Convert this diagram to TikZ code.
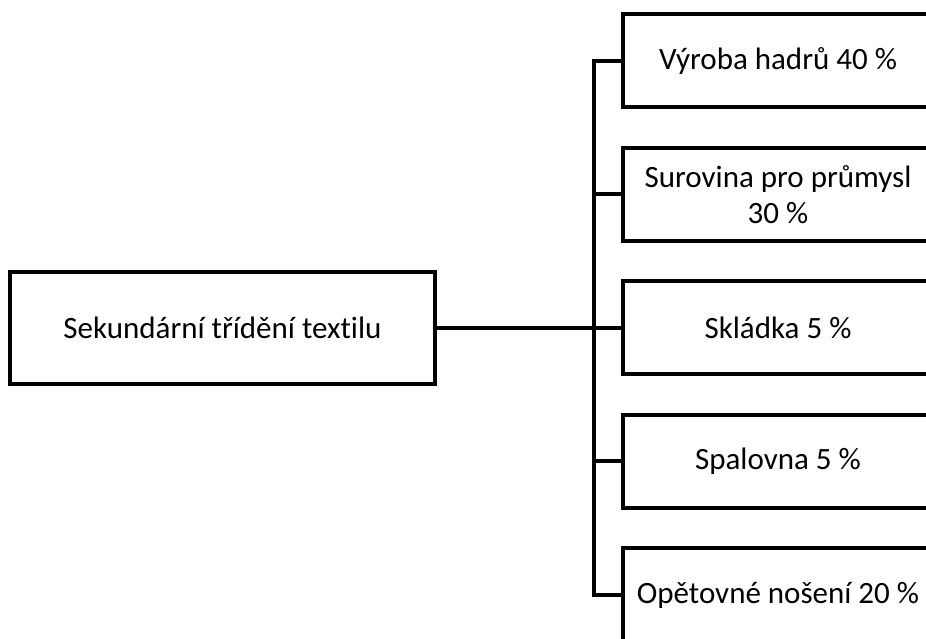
\documentclass[tikz,border=0pt]{standalone}
\usepackage{fontspec}
\setmainfont{Carlito}[Ligatures=NoCommon]
\begin{document}
\begin{tikzpicture}[x=1pt,y=1pt,
  box/.style={draw=black, line width=4pt, fill=white, inner sep=0pt,
    align=center, font=\fontsize{31}{36}\selectfont},
  srcbox/.style={box, minimum width=425pt, minimum height=112pt},
  leafbox/.style={box, minimum width=310pt, minimum height=93pt},
  link/.style={draw=black, line width=4pt}]
\useasboundingbox (0,0) rectangle (926,639);
\clip (0,0) rectangle (926,639);
% source box
\node[srcbox] (src) at (222.5,311) {Sekundární třídění textilu};
% destination boxes, partly cut off at the right edge
\node[leafbox] (d1) at (778,578)   {Výroba hadrů 40 \%};
\node[leafbox] (d2) at (778,444.5) {Surovina pro průmysl\\30 \%};
\node[leafbox] (d3) at (778,311)   {Skládka 5 \%};
\node[leafbox] (d4) at (778,177.5) {Spalovna 5 \%};
\node[leafbox] (d5) at (778,44)    {Opětovné nošení 20 \%};
% trunk of the bracket
\coordinate (tt) at (594,578);
\coordinate (tb) at (594,44);
\draw[link] (src.east) -- (src.east -| tt);
\draw[link, line cap=rect] (tt) -- (tb);
\foreach \d in {d1,d2,d3,d4,d5}
  \draw[link] (\d.west) -- (\d.west -| tt);
\end{tikzpicture}
\end{document}
